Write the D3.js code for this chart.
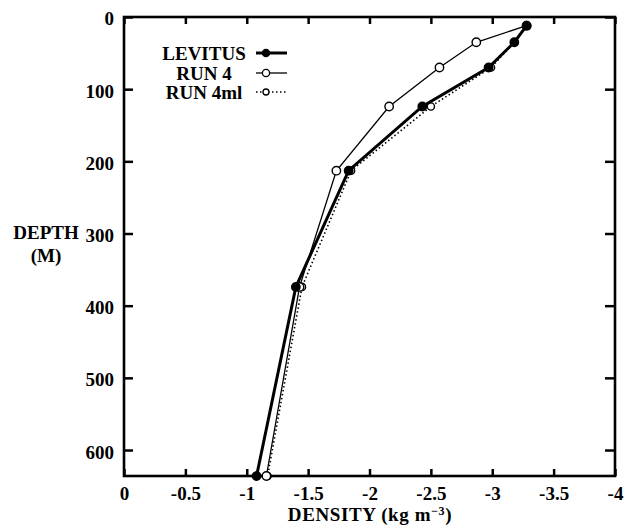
<!DOCTYPE html>
<html>
<head>
<meta charset="utf-8">
<script src="https://cdn.jsdelivr.net/npm/d3@7"></script>
<style>
  body { margin: 0; background: #fff; }
  text { font-family: "Liberation Serif", "Times New Roman", serif; font-weight: bold; fill: #000; }
</style>
</head>
<body>
<div id="chart"></div>
<script>
// depth levels (m) and density anomaly for each profile
var depths = [12, 35, 70, 124, 213, 374, 636];
var levitus = [-3.28, -3.18, -2.97, -2.43, -1.83, -1.40, -1.08];
var run4 = [-3.28, -2.87, -2.57, -2.16, -1.73, -1.43, -1.16];
var run4ml = [-3.28, -3.18, -2.99, -2.50, -1.85, -1.45, -1.17];

var seriesNames = ["LEVITUS", "RUN 4", "RUN 4ml"];
var xTicks = [0, -0.5, -1, -1.5, -2, -2.5, -3, -3.5, -4];
var xTickLabels = ["0", "-0.5", "-1", "-1.5", "-2", "-2.5", "-3", "-3.5", "-4"];
var yTicks = [0, 100, 200, 300, 400, 500, 600];

var margin = {top: 17, right: 15, bottom: 49, left: 124};
var width = 630 - margin.left - margin.right;
var height = 525 - margin.top - margin.bottom;

var xScale = d3.scaleLinear().domain([0, -4]).range([0, width]);
var yScale = d3.scaleLinear().domain([0, 636]).range([0, height]);

var svg = d3.select("#chart")
            .append("svg")
            .attr("width", 630)
            .attr("height", 525);

var plot = svg.append("g")
              .attr("transform", "translate(" + margin.left + "," + margin.top + ")");

// ticks on all four sides, pointing inward
var bottomAxis = plot.append("g")
    .attr("transform", "translate(0," + height + ")")
    .call(d3.axisBottom(xScale).tickValues(xTicks)
          .tickFormat(function(d, i) { return xTickLabels[i]; })
          .tickSize(-7).tickPadding(10.5));

var topAxis = plot.append("g")
    .call(d3.axisTop(xScale).tickValues(xTicks).tickFormat("").tickSize(-7));

var leftAxis = plot.append("g")
    .call(d3.axisLeft(yScale).tickValues(yTicks).tickSize(-9).tickPadding(10));

var rightAxis = plot.append("g")
    .attr("transform", "translate(" + width + ",0)")
    .call(d3.axisRight(yScale).tickValues(yTicks).tickFormat("").tickSize(-10));

plot.selectAll(".domain").remove();
plot.selectAll(".tick line").attr("stroke", "#000").attr("stroke-width", 2.5);
plot.selectAll(".tick text").style("font-size", "19px").attr("fill", "#000");
leftAxis.selectAll(".tick text").attr("dy", "0.42em");

plot.append("rect")
    .attr("x", 0).attr("y", 0)
    .attr("width", width).attr("height", height)
    .attr("fill", "none")
    .attr("stroke", "#000")
    .attr("stroke-width", 2.6);

// axis titles
var xTitle = svg.append("text")
   .attr("x", 370).attr("y", 521)
   .attr("text-anchor", "middle")
   .style("font-size", "19px")
   .style("letter-spacing", "0.6px");
xTitle.append("tspan").text("DENSITY (kg m");
xTitle.append("tspan").text("\u22123").attr("dy", -6).style("font-size", "12px");
xTitle.append("tspan").text(")").attr("dy", 6);

svg.append("text")
   .attr("x", 46).attr("y", 239)
   .attr("text-anchor", "middle")
   .style("font-size", "19px")
   .text("DEPTH");
svg.append("text")
   .attr("x", 46).attr("y", 262)
   .attr("text-anchor", "middle")
   .style("font-size", "19px")
   .text("(M)");

// profiles
var series = [
  {name: seriesNames[0], values: levitus, width: 3, dash: null, filled: true, r: 4.2},
  {name: seriesNames[1], values: run4, width: 1.3, dash: null, filled: false, r: 4.2},
  {name: seriesNames[2], values: run4ml, width: 1.6, dash: "1.5,2.5", filled: false, r: 3.6}
];

var line = d3.line()
             .x(function(d) { return xScale(d[0]); })
             .y(function(d) { return yScale(d[1]); });

series.slice().reverse().forEach(function(s) {
  var pts = s.values.map(function(v, i) { return [v, depths[i]]; });
  plot.append("path")
      .datum(pts)
      .attr("d", line)
      .attr("fill", "none")
      .attr("stroke", "#000")
      .attr("stroke-width", s.width)
      .attr("stroke-dasharray", s.dash);
  plot.selectAll(null)
      .data(pts)
      .enter()
      .append("circle")
      .attr("cx", function(d) { return xScale(d[0]); })
      .attr("cy", function(d) { return yScale(d[1]); })
      .attr("r", s.r)
      .attr("fill", s.filled ? "#000" : "#fff")
      .attr("stroke", "#000")
      .attr("stroke-width", 1.4);
});

// legend
var legend = svg.append("g");
var legY = [53, 73, 92];
series.forEach(function(s, i) {
  legend.append("text")
        .attr("x", 204).attr("y", legY[i] + 7)
        .attr("text-anchor", "middle")
        .style("font-size", "19px")
        .text(s.name);
  legend.append("line")
        .attr("x1", 256).attr("x2", 287)
        .attr("y1", legY[i]).attr("y2", legY[i])
        .attr("stroke", "#000")
        .attr("stroke-width", s.width)
        .attr("stroke-dasharray", s.dash);
  legend.append("circle")
        .attr("cx", 266).attr("cy", legY[i])
        .attr("r", s.r - 0.6)
        .attr("fill", s.filled ? "#000" : "#fff")
        .attr("stroke", "#000")
        .attr("stroke-width", 1.3);
});
</script>
</body>
</html>
